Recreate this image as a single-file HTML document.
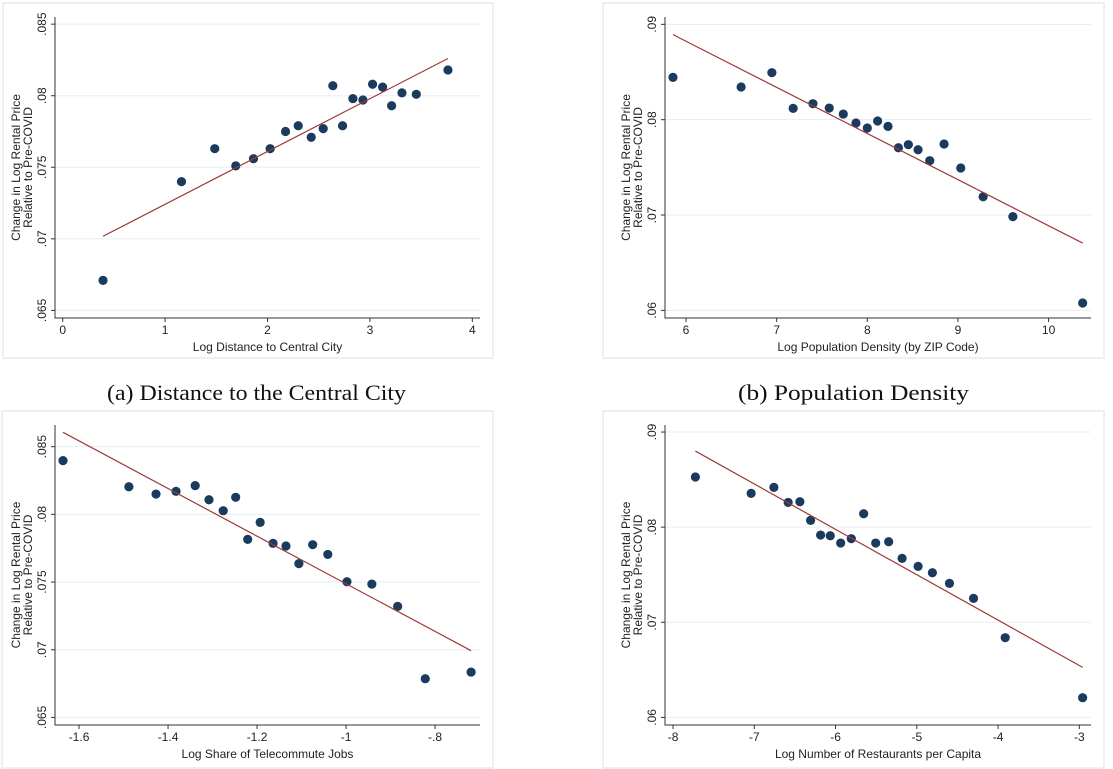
<!DOCTYPE html>
<html><head><meta charset="utf-8"><style>
body{margin:0;background:#fff;}
svg{display:block;font-family:"Liberation Sans",sans-serif;}
</style></head><body>
<svg id="fig" width="1113" height="769" viewBox="0 0 1113 769">
<text x="107" y="400" textLength="299" lengthAdjust="spacingAndGlyphs" font-family="Liberation Serif, serif" font-size="22" fill="#111">(a) Distance to the Central City</text>
<text x="738" y="400" textLength="231" lengthAdjust="spacingAndGlyphs" font-family="Liberation Serif, serif" font-size="22" fill="#111">(b) Population Density</text>
</svg>
<script>
// Panel A: distance
const aX=[0.394,1.16,1.485,1.69,1.863,2.026,2.176,2.30,2.427,2.544,2.638,2.733,2.834,2.932,3.026,3.124,3.212,3.313,3.453,3.762];
const aY=[.0671,.0740,.0763,.0751,.0756,.0763,.0775,.0779,.0771,.0777,.0807,.0779,.0798,.0797,.0808,.0806,.0793,.0802,.0801,.0818];
const aFit=[[0.394,.07018],[3.762,.0826]];
const aXTicks=[0,1,2,3,4];
const aXTickLabels=["0","1","2","3","4"];
const aYTicks=[.065,.07,.075,.08,.085];
const aYTickLabels=[".065",".07",".075",".08",".085"];
// Panel B: density
const bX=[5.856,6.608,6.947,7.182,7.40,7.58,7.735,7.875,8.0,8.114,8.228,8.343,8.453,8.56,8.689,8.847,9.031,9.278,9.606,10.376];
const bY=[.08444,.08343,.08493,.08119,.08168,.08122,.08059,.07965,.07913,.07986,.0793,.07706,.07738,.07685,.0757,.07745,.07493,.07192,.06983,.06077];
const bFit=[[5.856,.08892],[10.376,.06706]];
const bXTicks=[6,7,8,9,10];
const bXTickLabels=["6","7","8","9","10"];
const bYTicks=[.06,.07,.08,.09];
const bYTickLabels=[".06",".07",".08",".09"];
// Panel C: telecommute
const cX=[-1.636,-1.488,-1.427,-1.382,-1.339,-1.308,-1.276,-1.248,-1.193,-1.221,-1.164,-1.135,-1.106,-1.075,-1.041,-0.998,-0.942,-0.884,-0.822,-0.719];
const cY=[.08397,.08204,.0815,.0817,.08212,.08108,.08027,.08126,.07941,.07815,.07786,.07766,.07636,.07776,.07704,.07502,.07485,.0732,.06786,.06835];
const cFit=[[-1.636,.08606],[-0.719,.06993]];
const cXTicks=[-1.6,-1.4,-1.2,-1,-0.8];
const cXTickLabels=["-1.6","-1.4","-1.2","-1","-.8"];
const cYTicks=[.065,.07,.075,.08,.085];
const cYTickLabels=[".065",".07",".075",".08",".085"];
// Panel D: restaurants
const dX=[-7.725,-7.039,-6.759,-6.583,-6.439,-6.307,-6.184,-6.065,-5.937,-5.806,-5.654,-5.506,-5.346,-5.181,-4.984,-4.808,-4.598,-4.302,-3.912,-2.959];
const dY=[.08527,.08355,.08418,.0826,.08267,.08071,.07917,.0791,.07833,.07879,.08141,.07833,.07847,.07672,.07588,.07521,.07409,.07251,.06838,.06207];
const dFit=[[-7.725,.088],[-2.959,.06526]];
const dXTicks=[-8,-7,-6,-5,-4,-3];
const dXTickLabels=["-8","-7","-6","-5","-4","-3"];
const dYTicks=[.06,.07,.08,.09];
const dYTickLabels=[".06",".07",".08",".09"];

const NS="http://www.w3.org/2000/svg";
const svg=document.getElementById('fig');
function mk(tag,attrs,parent){const e=document.createElementNS(NS,tag);for(const k in attrs)e.setAttribute(k,attrs[k]);(parent||svg).appendChild(e);return e;}

function panel(id,box,plot,xd,yd,xs,ys,fit,xt,xtl,yt,ytl,xtitle){
  const g=mk('g',{});
  
  
  const fr=mk('rect',{x:box[0],y:box[1],width:box[2]-box[0],height:box[3]-box[1],fill:'#fff',stroke:'#e4ecf0','stroke-width':1.5},g);
  
  
  const [L,T,R,B]=plot;
  const sx=v=>L+(v-xd[0])/(xd[1]-xd[0])*(R-L);
  const sy=v=>B-(v-yd[0])/(yd[1]-yd[0])*(B-T);
  yt.forEach((v,i)=>{
    const gl=mk('line',{x1:L,x2:R,y1:sy(v),y2:sy(v),stroke:'#e6eef2','stroke-width':1},g);
    
    
    mk('line',{x1:L-4,x2:L,y1:sy(v),y2:sy(v),stroke:'#333','stroke-width':1},g);
    const t=mk('text',{x:0,y:0,transform:`translate(${L-9},${sy(v)}) rotate(-90)`,'text-anchor':'middle','font-size':12,fill:'#222'},g);
    t.textContent=ytl[i];
    
    
  });
  xt.forEach((v,i)=>{
    mk('line',{x1:sx(v),x2:sx(v),y1:B,y2:B+4,stroke:'#333','stroke-width':1},g);
    const t=mk('text',{x:sx(v),y:B+16,'text-anchor':'middle','font-size':12,fill:'#222'},g);
    t.textContent=xtl[i];
    
    
  });
  const ax=mk('path',{d:`M${L},${T}V${B}H${R}`,fill:'none',stroke:'#333','stroke-width':1},g);
  
  
  const xtt=mk('text',{x:(L+R)/2,y:B+33,'text-anchor':'middle','font-size':12,fill:'#222'},g);
  xtt.textContent=xtitle;
  
  
  const cy=(T+B)/2;
  const yt1=mk('text',{x:0,y:0,transform:`translate(${L-35},${cy}) rotate(-90)`,'text-anchor':'middle','font-size':12,fill:'#222'},g);
  yt1.textContent='Change in Log Rental Price';
  
  
  const yt2=mk('text',{x:0,y:0,transform:`translate(${L-23},${cy}) rotate(-90)`,'text-anchor':'middle','font-size':12,fill:'#222'},g);
  yt2.textContent='Relative to Pre-COVID';
  
  
  xs.forEach((v,i)=>{
    const c=mk('circle',{cx:sx(v),cy:sy(ys[i]),r:4.6,fill:'#1b3b5e'},g);
    
    
  });
  const fl=mk('line',{x1:sx(fit[0][0]),y1:sy(fit[0][1]),x2:sx(fit[1][0]),y2:sy(fit[1][1]),stroke:'#9e3a38','stroke-width':1.2},g);
  
  
}
panel('a',[3,3,493,358],[55,17,480,318],[-0.075,4.075],[.06447,.0855],aX,aY,aFit,aXTicks,aXTickLabels,aYTicks,aYTickLabels,'Log Distance to Central City');
panel('b',[603,3,1104,358],[665,17,1091,318],[5.768,10.468],[.0592,.09077],bX,bY,bFit,bXTicks,bXTickLabels,bYTicks,bYTickLabels,'Log Population Density (by ZIP Code)');
panel('c',[2,411,493,768],[55,425,480,725],[-1.654,-0.699],[.06444,.0866],cX,cY,cFit,cXTicks,cXTickLabels,cYTicks,cYTickLabels,'Log Share of Telecommute Jobs');
panel('d',[603,411,1104,768],[665,425,1091,725],[-8.099,-2.856],[.0592,.09074],dX,dY,dFit,dXTicks,dXTickLabels,dYTicks,dYTickLabels,'Log Number of Restaurants per Capita');
</script>
</body></html>
